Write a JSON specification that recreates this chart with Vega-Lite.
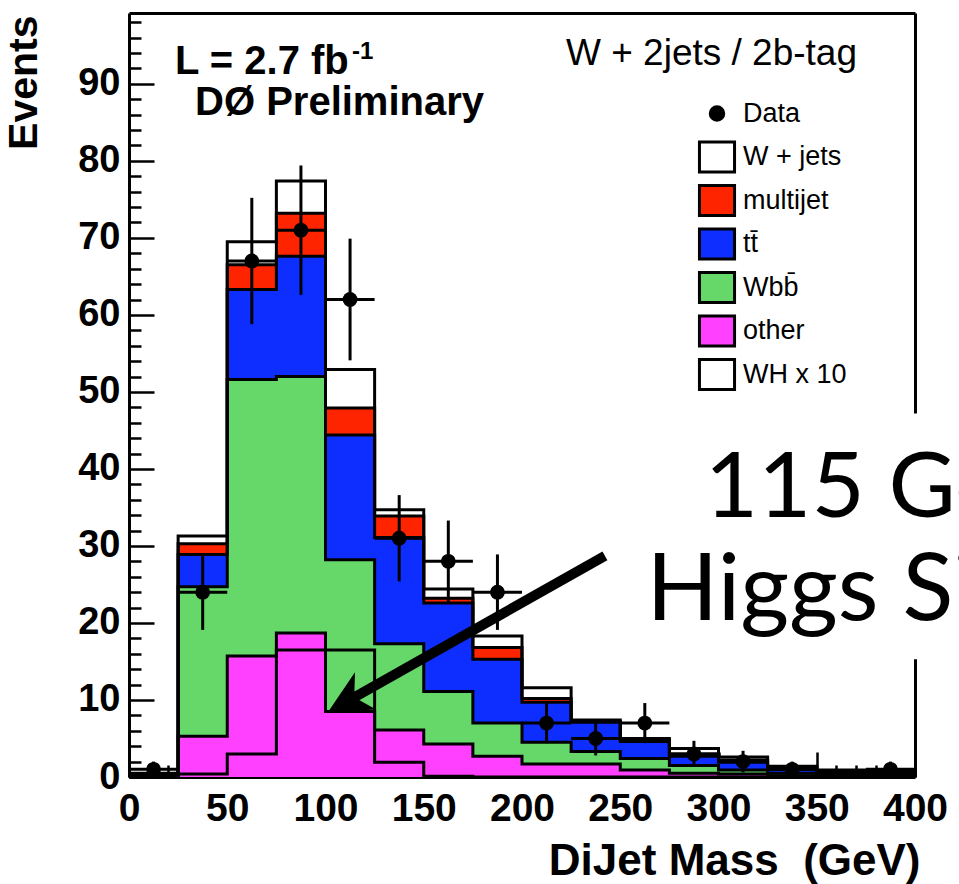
{
  "$schema": "https://vega.github.io/schema/vega-lite/v6.json",
  "width": 786,
  "height": 764,
  "autosize": {"type": "none"},
  "padding": {"left": 129, "top": 13, "right": 44, "bottom": 107},
  "background": "white",
  "config": {"view": {"stroke": null}, "font": "Liberation Sans"},
  "datasets": {
    "mc": [
      {"lo": 0, "other": 0.1, "Wbb̄": 0.15, "tt̄": 0.05, "multijet": 0.1, "W + jets": 0.1},
      {"lo": 25, "other": 5.3, "Wbb̄": 19.4, "tt̄": 4.2, "multijet": 1.4, "W + jets": 1.0},
      {"lo": 50, "other": 15.7, "Wbb̄": 35.9, "tt̄": 11.7, "multijet": 3.2, "W + jets": 3.0},
      {"lo": 75, "other": 18.7, "Wbb̄": 33.3, "tt̄": 15.6, "multijet": 5.6, "W + jets": 4.2},
      {"lo": 100, "other": 8.5, "Wbb̄": 19.7, "tt̄": 16.2, "multijet": 3.5, "W + jets": 5.0},
      {"lo": 125, "other": 6.1, "Wbb̄": 11.2, "tt̄": 13.8, "multijet": 2.8, "W + jets": 0.8},
      {"lo": 150, "other": 4.3, "Wbb̄": 6.8, "tt̄": 11.5, "multijet": 0.6, "W + jets": 1.2},
      {"lo": 175, "other": 2.7, "Wbb̄": 4.3, "tt̄": 8.3, "multijet": 1.5, "W + jets": 1.5},
      {"lo": 200, "other": 1.7, "Wbb̄": 2.8, "tt̄": 5.2, "multijet": 0.5, "W + jets": 1.4},
      {"lo": 225, "other": 1.7, "Wbb̄": 1.6, "tt̄": 3.8, "multijet": 0.1, "W + jets": 0.2},
      {"lo": 250, "other": 0.9, "Wbb̄": 1.5, "tt̄": 2.2, "multijet": 0.2, "W + jets": 0.2},
      {"lo": 275, "other": 0.5, "Wbb̄": 1.0, "tt̄": 1.2, "multijet": 0.3, "W + jets": 0.7},
      {"lo": 300, "other": 0.4, "Wbb̄": 0.5, "tt̄": 1.0, "multijet": 0.3, "W + jets": 0.4},
      {"lo": 325, "other": 0.15, "Wbb̄": 0.35, "tt̄": 0.5, "multijet": 0.2, "W + jets": 0.2},
      {"lo": 350, "other": 0.1, "Wbb̄": 0.2, "tt̄": 0.3, "multijet": 0.1, "W + jets": 0.2},
      {"lo": 375, "other": 0.1, "Wbb̄": 0.2, "tt̄": 0.25, "multijet": 0.1, "W + jets": 0.15},
      {"lo": 400, "other": 0, "Wbb̄": 0, "tt̄": 0, "multijet": 0, "W + jets": 0}
    ],
    "wh": [
      {"lo": 0, "n": 0},
      {"lo": 25, "n": 0.4},
      {"lo": 50, "n": 3.0},
      {"lo": 75, "n": 16.5},
      {"lo": 100, "n": 16.5},
      {"lo": 125, "n": 1.9},
      {"lo": 150, "n": 0.1},
      {"lo": 175, "n": 0},
      {"lo": 400, "n": 0}
    ],
    "obs": [
      {"lo": 0, "hi": 25, "mid": 12.5, "n": 1, "lowN": 0, "highN": 2},
      {"lo": 25, "hi": 50, "mid": 37.5, "n": 24, "lowN": 19.1, "highN": 28.9},
      {"lo": 50, "hi": 75, "mid": 62.5, "n": 67, "lowN": 58.8, "highN": 75.2},
      {"lo": 75, "hi": 100, "mid": 87.5, "n": 71, "lowN": 62.6, "highN": 79.4},
      {"lo": 100, "hi": 125, "mid": 112.5, "n": 62, "lowN": 54.1, "highN": 69.9},
      {"lo": 125, "hi": 150, "mid": 137.5, "n": 31, "lowN": 25.4, "highN": 36.6},
      {"lo": 150, "hi": 175, "mid": 162.5, "n": 28, "lowN": 22.7, "highN": 33.3},
      {"lo": 175, "hi": 200, "mid": 187.5, "n": 24, "lowN": 19.1, "highN": 28.9},
      {"lo": 200, "hi": 225, "mid": 212.5, "n": 7, "lowN": 4.4, "highN": 9.6},
      {"lo": 225, "hi": 250, "mid": 237.5, "n": 5, "lowN": 2.8, "highN": 7.2},
      {"lo": 250, "hi": 275, "mid": 262.5, "n": 7, "lowN": 4.4, "highN": 9.6},
      {"lo": 275, "hi": 300, "mid": 287.5, "n": 3, "lowN": 1.3, "highN": 4.7},
      {"lo": 300, "hi": 325, "mid": 312.5, "n": 2, "lowN": 0.6, "highN": 3.4},
      {"lo": 325, "hi": 350, "mid": 337.5, "n": 1, "lowN": 0, "highN": 2},
      {"lo": 375, "hi": 400, "mid": 387.5, "n": 1, "lowN": 0, "highN": 2}
    ]
  },
  "layer": [
    {
      "data": {"name": "mc"},
      "transform": [
        {"fold": ["other", "Wbb̄", "tt̄", "multijet", "W + jets"], "as": ["comp", "n"]},
        {"stack": "n", "groupby": ["lo"], "as": ["y0", "y1"]}
      ],
      "layer": [
        {
          "mark": {"type": "area", "interpolate": "step-after", "opacity": 1},
          "encoding": {
            "x": {
              "field": "lo", "type": "quantitative",
              "scale": {"domain": [0, 400], "nice": false, "zero": false},
              "axis": {
                "orient": "bottom",
                "values": [0,10,20,30,40,50,60,70,80,90,100,110,120,130,140,150,160,170,180,190,200,210,220,230,240,250,260,270,280,290,300,310,320,330,340,350,360,370,380,390,400],
                "labelExpr": "datum.value % 50 === 0 ? datum.label : ''",
                "tickSize": {"condition": {"test": "datum.value % 50 === 0", "value": -25}, "value": -12},
                "tickWidth": 2.5, "tickColor": "black",
                "domainColor": "black", "domainWidth": 3,
                "grid": false,
                "labelFont": "Liberation Sans", "labelFontWeight": "bold", "labelFontSize": 39, "labelColor": "black",
                "labelPadding": 37, "labelFlush": false, "labelOverlap": false,
                "encode": {
                  "labels": {
                    "dx": {"condition": [
                      {"test": "datum.value === 300", "value": -11},
                      {"test": "datum.value === 350", "value": -20},
                      {"test": "datum.value === 400", "value": -28}
                    ], "value": 0}
                  }
                },
                "title": "DiJet Mass\u00a0 (GeV)",
                "titleFont": "Liberation Sans", "titleFontWeight": "bold", "titleFontSize": 44, "titleColor": "black",
                "titleAnchor": "end", "titleAlign": "right", "titleBaseline": "alphabetic",
                "titleX": 791, "titleY": 97
              }
            },
            "y": {
              "field": "y1", "type": "quantitative",
              "scale": {"domain": [0, 99.2], "nice": false, "zero": true},
              "axis": {
                "orient": "left",
                "values": [0,2,4,6,8,10,12,14,16,18,20,22,24,26,28,30,32,34,36,38,40,42,44,46,48,50,52,54,56,58,60,62,64,66,68,70,72,74,76,78,80,82,84,86,88,90,92,94,96,98],
                "labelExpr": "datum.value % 10 === 0 ? datum.label : ''",
                "tickSize": {"condition": {"test": "datum.value % 10 === 0", "value": -25}, "value": -12},
                "tickWidth": 2.5, "tickColor": "black",
                "domainColor": "black", "domainWidth": 3,
                "grid": false,
                "labelFont": "Liberation Sans", "labelFontWeight": "bold", "labelFontSize": 38, "labelColor": "black",
                "labelPadding": 34, "labelFlush": false, "labelOverlap": false,
                "title": "Events",
                "titleFont": "Liberation Sans", "titleFontWeight": "bold", "titleFontSize": 41, "titleColor": "black",
                "titleAngle": 270, "titleAlign": "right", "titleBaseline": "alphabetic",
                "titleX": -93, "titleY": 2
              }
            },
            "y2": {"field": "y0"},
            "color": {
              "field": "comp", "type": "nominal",
              "scale": {
                "domain": ["Data", "W + jets", "multijet", "tt̄", "Wbb̄", "other", "WH x 10"],
                "range": ["black", "white", "#ff2400", "#0e2eff", "#66d86a", "#ff40ff", "white"]
              },
              "legend": {
                "orient": "none", "legendX": 571.5, "legendY": 84,
                "title": null, "padding": 0, "direction": "vertical",
                "symbolType": {"expr": "datum.value === 'Data' ? 'M-1.17,-1M-1.17,1M-0.45,0A0.45,0.45 0 1,0 0.45,0A0.45,0.45 0 1,0 -0.45,0Z' : 'M-1.17,-1H1.17V1H-1.17Z'"},
                "symbolSize": 900,
                "symbolStrokeColor": "black", "symbolStrokeWidth": 3, "symbolOpacity": 1,
                "labelFont": "Liberation Sans", "labelFontSize": 27, "labelColor": "black",
                "labelOffset": 9.5, "rowPadding": 0.5
              }
            }
          }
        },
        {
          "mark": {"type": "line", "interpolate": "step-after", "color": "black", "strokeWidth": 3},
          "encoding": {
            "x": {
              "field": "lo", "type": "quantitative",
              "axis": {"orient": "top", "labels": false, "ticks": false, "grid": false, "title": null, "domainColor": "black", "domainWidth": 3}
            },
            "y": {
              "field": "y1", "type": "quantitative",
              "axis": {"orient": "right", "labels": false, "ticks": false, "grid": false, "title": null, "domainColor": "black", "domainWidth": 3}
            },
            "detail": {"field": "comp"}
          }
        }
      ]
    },
    {
      "data": {"name": "wh"},
      "mark": {"type": "line", "interpolate": "step-after", "color": "black", "strokeWidth": 3},
      "encoding": {
        "x": {"field": "lo", "type": "quantitative", "axis": null},
        "y": {"field": "n", "type": "quantitative", "axis": null}
      }
    },
    {
      "data": {"name": "obs"},
      "layer": [
        {
          "mark": {"type": "rule", "color": "black", "strokeWidth": 3},
          "encoding": {
            "x": {"field": "mid", "type": "quantitative", "axis": null},
            "y": {"field": "lowN", "type": "quantitative", "axis": null},
            "y2": {"field": "highN"}
          }
        },
        {
          "mark": {"type": "rule", "color": "black", "strokeWidth": 3},
          "encoding": {
            "x": {"field": "lo", "type": "quantitative", "axis": null},
            "x2": {"field": "hi"},
            "y": {"field": "n", "type": "quantitative", "axis": null}
          }
        },
        {
          "mark": {"type": "point", "shape": "circle", "filled": true, "color": "black", "opacity": 1, "size": 220},
          "encoding": {
            "x": {"field": "mid", "type": "quantitative", "axis": null},
            "y": {"field": "n", "type": "quantitative", "axis": null}
          }
        }
      ]
    },
    {
      "data": {"values": [{"box": "label backdrop"}]},
      "mark": {"type": "rect", "fill": "white", "clip": false},
      "encoding": {
        "x": {"datum": 258, "type": "quantitative", "axis": null},
        "x2": {"datum": 430},
        "y": {"datum": 15.3, "type": "quantitative", "axis": null},
        "y2": {"datum": 47.2}
      }
    },
    {
      "data": {"values": [{"arrow": "shaft"}]},
      "mark": {"type": "rule", "color": "black", "strokeWidth": 10, "strokeCap": "butt"},
      "encoding": {
        "x": {"datum": 242.2, "type": "quantitative", "axis": null},
        "y": {"datum": 28.7, "type": "quantitative", "axis": null},
        "x2": {"datum": 114.6},
        "y2": {"datum": 10.35}
      }
    },
    {
      "data": {"values": [{"arrow": "head"}]},
      "mark": {"type": "point", "shape": "M0,0L-2,-1L-1.4,0L-2,1Z", "filled": true, "color": "black", "opacity": 1, "size": 1849, "angle": 150.6, "strokeWidth": 0},
      "encoding": {
        "x": {"datum": 101.3, "type": "quantitative", "axis": null},
        "y": {"datum": 8.44, "type": "quantitative", "axis": null}
      }
    },
    {
      "data": {"values": [{"note": "L = 2.7 fb"}]},
      "mark": {"type": "text", "font": "Liberation Sans", "fontWeight": "bold", "fontSize": 40, "align": "left", "baseline": "alphabetic", "color": "black"},
      "encoding": {
        "x": {"datum": 23.4, "type": "quantitative", "axis": null},
        "y": {"datum": 91.28, "type": "quantitative", "axis": null},
        "text": {"field": "note"}
      }
    },
    {
      "data": {"values": [{"note": "-1"}]},
      "mark": {"type": "text", "font": "Liberation Sans", "fontWeight": "bold", "fontSize": 24, "align": "left", "baseline": "alphabetic", "color": "black"},
      "encoding": {
        "x": {"datum": 113.5, "type": "quantitative", "axis": null},
        "y": {"datum": 93.2, "type": "quantitative", "axis": null},
        "text": {"field": "note"}
      }
    },
    {
      "data": {"values": [{"note": "DØ Preliminary"}]},
      "mark": {"type": "text", "font": "Liberation Sans", "fontWeight": "bold", "fontSize": 40, "align": "left", "baseline": "alphabetic", "color": "black"},
      "encoding": {
        "x": {"datum": 33.6, "type": "quantitative", "axis": null},
        "y": {"datum": 85.95, "type": "quantitative", "axis": null},
        "text": {"field": "note"}
      }
    },
    {
      "data": {"values": [{"note": "W + 2jets / 2b-tag"}]},
      "mark": {"type": "text", "font": "Liberation Sans", "fontSize": 37, "align": "right", "baseline": "alphabetic", "color": "black"},
      "encoding": {
        "x": {"datum": 370.5, "type": "quantitative", "axis": null},
        "y": {"datum": 92.45, "type": "quantitative", "axis": null},
        "text": {"field": "note"}
      }
    },
    {
      "data": {"values": [{"note": "115 GeV"}]},
      "mark": {"type": "text", "font": "Lato", "fontSize": 92, "align": "left", "baseline": "alphabetic", "color": "black"},
      "encoding": {
        "x": {"datum": 293.0, "type": "quantitative", "axis": null},
        "y": {"datum": 33.76, "type": "quantitative", "axis": null},
        "text": {"field": "note"}
      }
    },
    {
      "data": {"values": [{"note": "Higgs Signal"}]},
      "mark": {"type": "text", "font": "Lato", "fontSize": 94, "align": "left", "baseline": "alphabetic", "color": "black"},
      "encoding": {
        "x": {"datum": 263.4, "type": "quantitative", "axis": null},
        "y": {"datum": 20.39, "type": "quantitative", "axis": null},
        "text": {"field": "note"}
      }
    }
  ]
}
